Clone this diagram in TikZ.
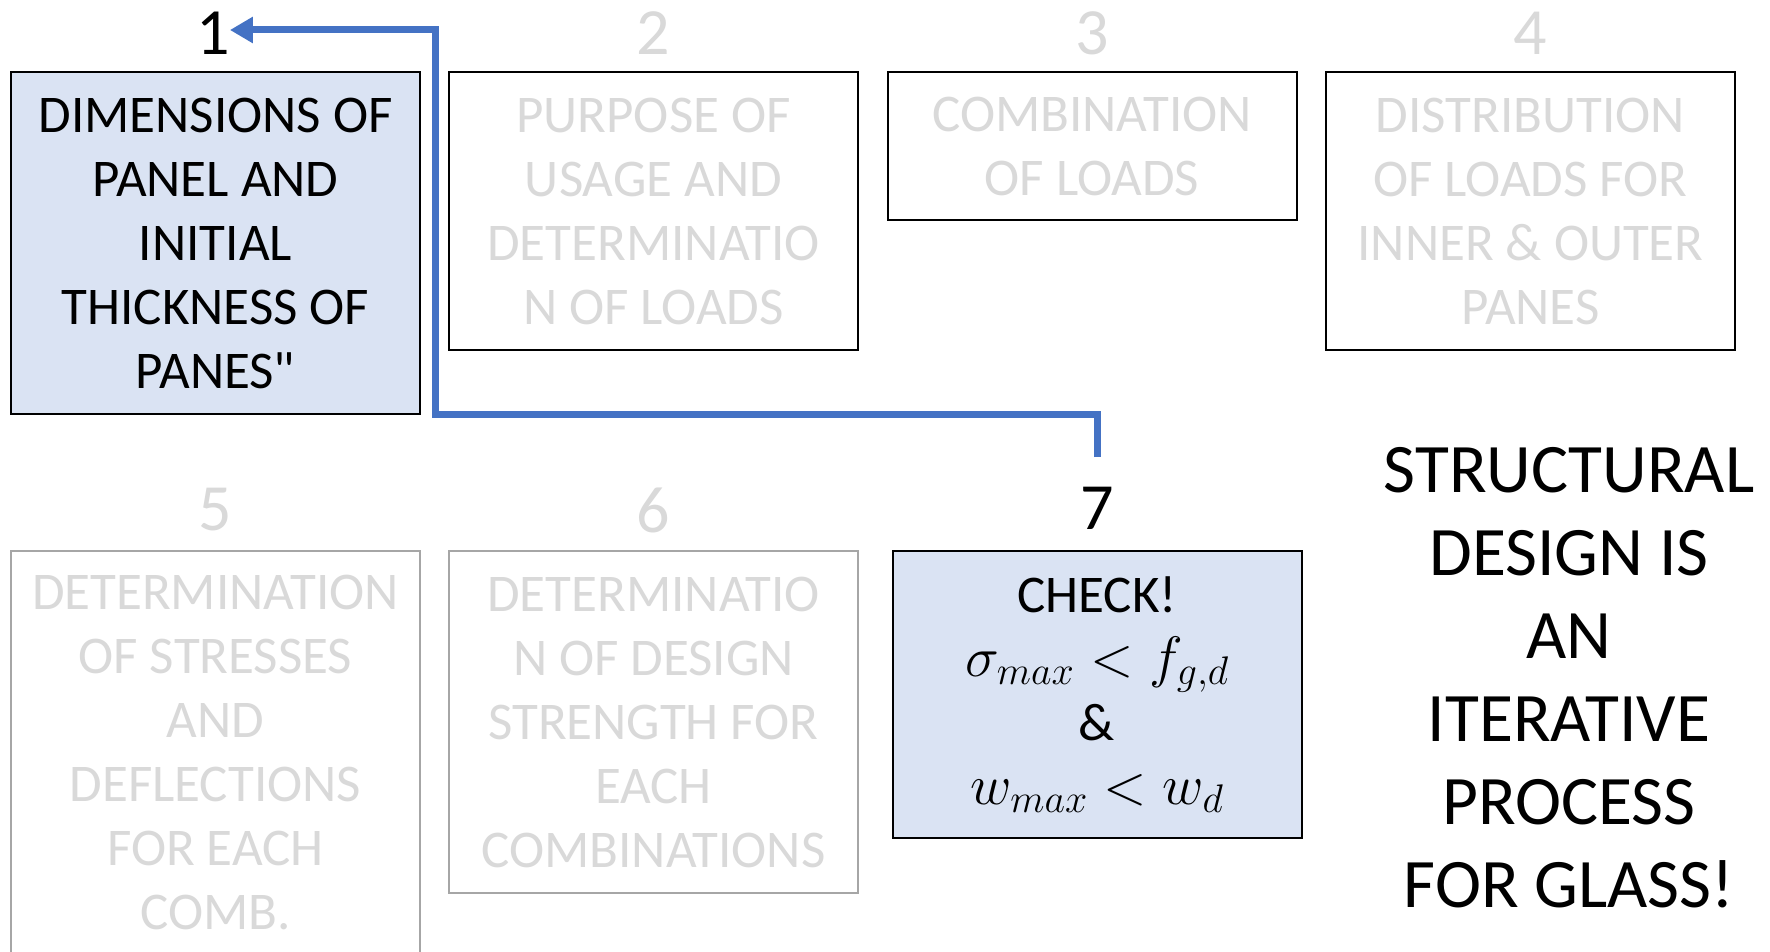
\RequirePackage{fix-cm}
\documentclass[tikz,border=0pt]{standalone}
\usepackage{fontspec}
\setmainfont{Carlito}
\newfontfamily\straightq{Carlito}[Ligatures=TeXOff]
\usetikzlibrary{arrows.meta}
\definecolor{boxfill}{HTML}{DAE3F3}
\definecolor{fadetext}{HTML}{D9D9D9}
\definecolor{fadeline}{HTML}{A6A6A6}
\definecolor{arrowblue}{HTML}{4472C4}
\newcommand{\bigmath}[1]{{\fontsize{57}{64}\selectfont$#1$}}
\begin{document}
\begin{tikzpicture}[x=1pt,y=-1pt,
  box/.style={draw=black, line width=2pt, minimum width=409pt, align=center,
    font=\fontsize{53}{64}\selectfont, inner sep=0pt, text=fadetext},
  activebox/.style={box, fill=boxfill, text=black},
  fadebox/.style={box, draw=fadeline, line width=1.5pt},
  numlbl/.style={font=\fontsize{66}{66}\selectfont, inner sep=0pt, text=fadetext},
  activenum/.style={numlbl, text=black},
  loopline/.style={draw=arrowblue, line width=7pt, -{Triangle[length=23pt,width=25pt]}},
  note/.style={align=center, font=\fontsize{69.5}{83}\selectfont, inner sep=0pt}]
\clip (0,0) rectangle (1770,952);
\fill[white] (0,0) rectangle (1770,952);
% top row
\node[activebox, minimum height=342pt] (b1) at (215.5,243) {DIMENSIONS OF\\PANEL AND\\INITIAL\\THICKNESS OF\\PANES{\straightq"}};
\node[box, minimum height=278pt] (b2) at (653.5,211) {PURPOSE OF\\USAGE AND\\DETERMINATIO\\N OF LOADS};
\node[box, minimum height=148pt] (b3) at (1092,146) {COMBINATION\\OF LOADS};
\node[box, minimum height=278pt] (b4) at (1530.5,211) {DISTRIBUTION\\OF LOADS FOR\\INNER \& OUTER\\PANES};
% bottom row
\node[fadebox, minimum height=404pt] (b5) at (215.5,753) {DETERMINATION\\OF STRESSES\\AND\\DEFLECTIONS\\FOR EACH\\COMB.};
\node[fadebox, minimum height=342pt] (b6) at (653.5,722) {DETERMINATIO\\N OF DESIGN\\STRENGTH FOR\\EACH\\COMBINATIONS};
\node[activebox, minimum height=287pt] (b7) at (1097,694.5) {CHECK!\\\bigmath{\sigma_{max} < f_{g,d}}\\\&\\\bigmath{w_{max} < w_d}};
% numbers
\node[activenum] (n1) at (213,33) {1};
\node[numlbl] (n2) at (653.5,33) {2};
\node[numlbl] (n3) at (1092,33) {3};
\node[numlbl] (n4) at (1530.5,33) {4};
\node[numlbl] (n5) at (215.5,510) {5};
\node[numlbl] (n6) at (653.5,510) {6};
\node[activenum] (n7) at (1097,508) {7};
% loop connector
\coordinate (s) at (1097,457);
\coordinate (c) at (435,414);
\draw[loopline] (s) |- (c) |- ([yshift=3pt]n1.east);
% side note
\node[note] (t) at (1569,678) {STRUCTURAL\\DESIGN IS\\AN\\ITERATIVE\\PROCESS\\FOR GLASS!};
\end{tikzpicture}
\end{document}
